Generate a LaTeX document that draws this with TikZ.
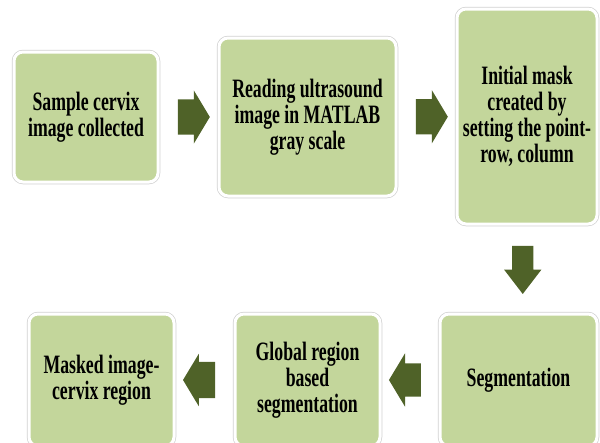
\documentclass[tikz,border=0pt]{standalone}
\usepackage{fontspec}
\newfontfamily\boxfont{Liberation Serif}[FakeStretch=0.67]
\usetikzlibrary{shapes,arrows,positioning,calc}
\definecolor{boxgreen}{HTML}{C3D69B}
\definecolor{arrowolive}{HTML}{4F6228}

\begin{document}
\begin{tikzpicture}[x=1pt, y=-1pt,
    stepbox/.style={rectangle, rounded corners=9pt, fill=boxgreen, draw=white, line width=3pt,
        preaction={draw=black!18, line width=4.5pt}, align=center, inner sep=0pt,
        font=\boxfont\bfseries\fontsize{26.5}{26}\selectfont},
    blockarrow/.style={single arrow, fill=arrowolive, draw=none, inner xsep=0pt,
        text height=0pt, text depth=0pt, text width=0pt}]
    \useasboundingbox (0,0) rectangle (600,442);
    \clip (0,0) rectangle (600,442);

    % Top row
    \node[stepbox, minimum width=144pt, minimum height=130pt] (sample) at (86,117) {Sample cervix\\image collected};
    \node[stepbox, minimum width=177pt, minimum height=158pt] (reading) at (307.5,117) {Reading ultrasound\\image in MATLAB\\gray scale};
    \node[stepbox, minimum width=140pt, minimum height=215pt] (mask) at (527,116.5) {Initial mask\\created by\\setting the point-\\row, column};

    % Bottom row
    \node[stepbox, minimum width=157pt, minimum height=132pt] (segm) at (518.5,380) {Segmentation};
    \node[stepbox, minimum width=145pt, minimum height=132pt] (global) at (307.5,380) {Global region\\based\\segmentation};
    \node[stepbox, minimum width=145pt, minimum height=132pt] (masked) at (101.5,380) {Masked image-\\cervix region};

    % Block arrows between the steps
    \node[blockarrow, inner ysep=17.5pt, single arrow head extend=9pt, single arrow tip angle=118,
        minimum height=32pt] (arr1) at ($(sample.east)!0.5!(reading.west)$) {};
    \node[blockarrow, inner ysep=17.5pt, single arrow head extend=9pt, single arrow tip angle=118,
        minimum height=32pt] (arr2) at ($(reading.east)!0.5!(mask.west)$) {};
    \node[blockarrow, inner xsep=10.5pt, inner ysep=0pt, single arrow head extend=8pt, single arrow tip angle=75,
        minimum height=48pt, shape border rotate=270] (arr3) at ($(mask.south)!0.5!(segm.north)+(0,-6)$) {};
    \node[blockarrow, inner ysep=16.5pt, single arrow head extend=10pt, single arrow tip angle=118,
        minimum height=32pt, shape border rotate=180] (arr4) at ($(segm.west)!0.5!(global.east)$) {};
    \node[blockarrow, inner ysep=18pt, single arrow head extend=8pt, single arrow tip angle=118,
        minimum height=32pt, shape border rotate=180] (arr5) at ($(global.west)!0.5!(masked.east)$) {};
\end{tikzpicture}
\end{document}
